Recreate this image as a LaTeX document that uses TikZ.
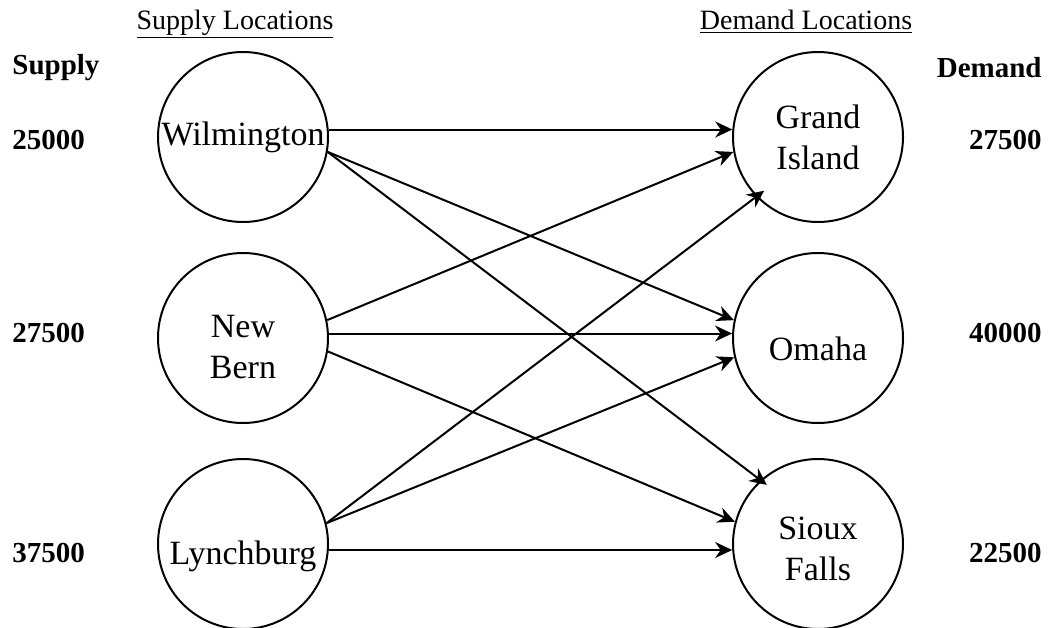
\documentclass[tikz,border=0pt]{standalone}
\usepackage{fontspec}
\setmainfont{Liberation Serif}
\usetikzlibrary{arrows.meta}
\newcommand{\dropstrut}[1]{\rule{0pt}{#1}}

\begin{document}
\begin{tikzpicture}[x=0.5pt, y=-0.5pt,
  loc/.style={circle, draw=black, line width=1pt, minimum size=85pt, inner sep=0pt, align=center,
              font=\fontsize{17}{20.5}\selectfont},
  qty/.style={font=\bfseries\fontsize{14.5}{17}\selectfont, inner sep=0pt},
  head/.style={font=\fontsize{14}{17}\selectfont, inner sep=0pt, anchor=base},
  ar/.style={-{Stealth[length=3mm, width=2.8mm]}, line width=1pt}
]
\useasboundingbox (0,0) rectangle (1049,627);

% headings
\node[head] (suphead) at (235,29) {\underline{Supply Locations}};
\node[head] (demhead) at (806,29) {\underline{Demand Locations}};
\node[qty, anchor=west] (suplbl) at (12,68) {Supply};
\node[qty, anchor=east] (demlbl) at (1042,68) {Demand};

% supply side
\node[loc] (wil) at (243,137) {Wilmington};
\node[loc] (nb) at (243,338) {\dropstrut{20.5pt}New\\Bern};
\node[loc] (lyn) at (243,544) {\dropstrut{24pt}Lynchburg};
\node[qty, anchor=west] (s1) at (12,140) {25000};
\node[qty, anchor=west] (s2) at (12,333) {27500};
\node[qty, anchor=west] (s3) at (12,553) {37500};

% demand side
\node[loc] (gi) at (818,137) {Grand\\Island};
\node[loc] (om) at (818,338) {\dropstrut{23pt}Omaha};
\node[loc] (sf) at (818,544) {\dropstrut{16.5pt}Sioux\\Falls};
\node[qty, anchor=east] (d1) at (1042,140) {27500};
\node[qty, anchor=east] (d2) at (1042,333) {40000};
\node[qty, anchor=east] (d3) at (1042,553) {22500};

% routes
\draw[ar] (wil.5) -- (gi.175);
\draw[ar] (wil.-10) -- (om.168);
\draw[ar, shorten >=-4pt] (wil.-10) -- (sf.132);
\draw[ar] (nb.12) -- (gi.-170);
\draw[ar] (nb.3) -- (om.177);
\draw[ar] (nb.-9) -- (sf.165);
\draw[ar, shorten >=-5pt] (lyn.14) -- (gi.-136);
\draw[ar] (lyn.14) -- (om.-167);
\draw[ar] (lyn.-4) -- (sf.-176);
\end{tikzpicture}
\end{document}
